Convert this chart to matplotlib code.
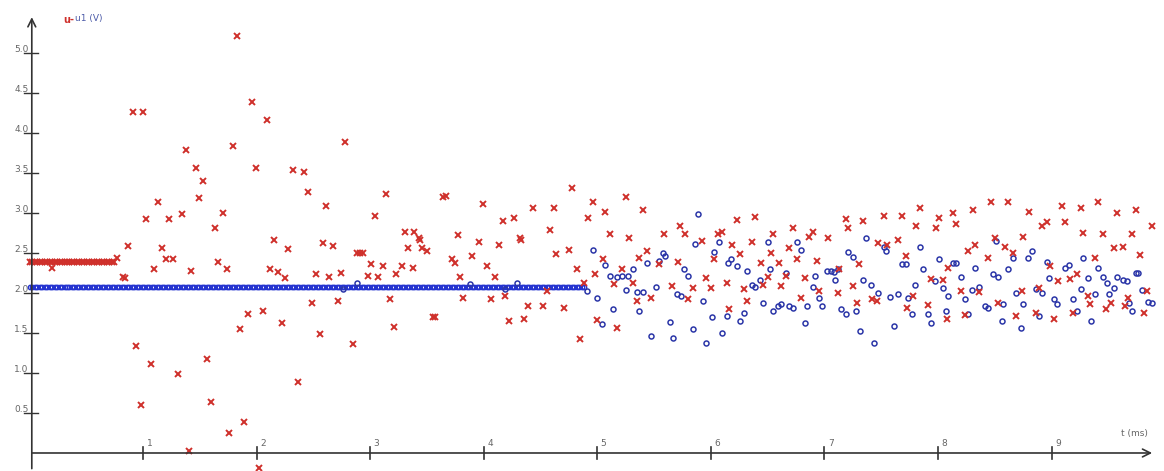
import matplotlib.pyplot as plt
import numpy as np

# sampling step of the flat start (ms)
dt_flat = 0.022

# u : red crosses. flat start, then scattered samples
u_flat_t = np.arange(0, 0.75, dt_flat)
u_flat = [2.39] * len(u_flat_t)

u_t = [0.20, 0.77, 0.82, 0.84, 0.87, 0.91, 1.00, 0.94, 0.98, 1.03, 1.07, 1.10, 1.13, 1.17,
       1.20, 1.26, 1.23, 1.31, 1.34, 1.38, 1.40, 1.42, 1.47, 1.49, 1.53, 1.56, 1.60, 1.63,
       1.66, 1.70, 1.74, 1.76, 1.79, 1.83, 1.85, 1.89, 1.92, 1.96, 1.99, 2.02, 2.06, 2.09,
       2.12, 2.15, 2.19, 2.22, 2.25, 2.28, 2.32, 2.36, 2.42, 2.45, 2.49, 2.52, 2.56, 2.58,
       2.61, 2.64, 2.67, 2.72, 2.74, 2.78, 2.85, 2.88, 2.91, 2.94, 2.98, 3.01, 3.04, 3.07,
       3.11, 3.14, 3.17, 3.21, 3.23, 3.28, 3.31, 3.33, 3.38, 3.39, 3.43, 3.44, 3.46, 3.50,
       3.55, 3.57, 3.64, 3.67, 3.72, 3.75, 3.77, 3.79, 3.82, 3.90, 3.96, 3.99, 4.03, 4.06,
       4.10, 4.13, 4.17, 4.19, 4.22, 4.27, 4.32, 4.33, 4.35, 4.39, 4.43, 4.52, 4.56, 4.58,
       4.62, 4.64, 4.71, 4.75, 4.78, 4.82, 4.85, 4.88, 4.92, 4.96, 4.98, 5.00, 5.05, 5.07,
       5.11, 5.15, 5.17, 5.22, 5.25, 5.28, 5.31, 5.35, 5.37, 5.40, 5.44, 5.47, 5.54, 5.59,
       5.66, 5.71, 5.73, 5.77, 5.80, 5.84, 5.92, 5.96, 6.00, 6.03, 6.06, 6.10, 6.14, 6.16,
       6.19, 6.23, 6.26, 6.29, 6.32, 6.36, 6.39, 6.44, 6.46, 6.50, 6.53, 6.55, 6.60, 6.62,
       6.66, 6.69, 6.72, 6.76, 6.79, 6.83, 6.86, 6.90, 6.93, 6.95, 7.03, 7.12, 7.13, 7.19,
       7.21, 7.25, 7.29, 7.30, 7.34, 7.42, 7.46, 7.47, 7.55, 7.52, 7.65, 7.68, 7.72, 7.73,
       7.78, 7.81, 7.84, 7.91, 7.94, 7.98, 8.01, 8.04, 8.08, 8.09, 8.13, 8.16, 8.20, 8.24,
       8.26, 8.31, 8.33, 8.36, 8.44, 8.47, 8.50, 8.53, 8.59, 8.62, 8.66, 8.69, 8.74, 8.75,
       8.80, 8.86, 8.89, 8.92, 8.96, 8.99, 9.02, 9.06, 9.09, 9.12, 9.16, 9.19, 9.22, 9.26,
       9.28, 9.32, 9.34, 9.38, 9.41, 9.45, 9.48, 9.52, 9.55, 9.58, 9.63, 9.65, 9.67, 9.71,
       9.74, 9.78, 9.81, 9.84, 9.88]
u_val = [2.31, 2.44, 2.20, 2.19, 2.59, 4.26, 4.26, 1.34, 0.60, 2.92, 1.11, 2.30, 3.14, 2.56,
         2.42, 2.42, 2.92, 0.99, 2.99, 3.78, 0.03, 2.28, 3.56, 3.19, 3.40, 1.17, 0.64, 2.81,
         2.39, 3.00, 2.30, 0.25, 3.84, 5.21, 1.55, 0.39, 1.74, 4.39, 3.56, -0.19, 1.78, 4.16,
         2.30, 2.66, 2.26, 1.62, 2.19, 2.55, 3.54, 0.89, 3.51, 3.26, 1.88, 2.24, 1.49, 2.63,
         3.08, 2.20, 2.59, 1.90, 2.25, 3.89, 1.36, 2.50, 2.50, 2.50, 2.21, 2.36, 2.96, 2.20,
         2.34, 3.23, 1.92, 1.58, 2.24, 2.34, 2.76, 2.56, 2.31, 2.76, 2.69, 2.66, 2.56, 2.53,
         1.70, 1.70, 3.20, 3.21, 2.43, 2.38, 2.72, 2.20, 1.94, 2.46, 2.64, 3.11, 2.34, 1.92,
         2.20, 2.60, 2.90, 1.96, 1.65, 2.94, 2.69, 2.66, 1.68, 1.84, 3.06, 1.84, 2.02, 2.79,
         3.06, 2.49, 1.81, 2.54, 3.31, 2.30, 1.43, 2.12, 2.94, 3.13, 2.24, 1.66, 2.43, 3.01,
         2.73, 2.11, 1.56, 2.30, 3.20, 2.69, 2.13, 1.90, 2.44, 3.04, 2.53, 1.94, 2.36, 2.74,
         2.09, 2.39, 2.84, 2.73, 1.92, 2.06, 2.65, 2.19, 2.06, 2.43, 2.73, 2.76, 2.13, 1.80,
         2.60, 2.91, 2.49, 2.05, 1.90, 2.64, 2.95, 2.38, 2.10, 2.20, 2.50, 2.73, 2.38, 2.09,
         2.21, 2.56, 2.81, 2.43, 1.94, 2.19, 2.70, 2.76, 2.40, 2.02, 2.69, 2.00, 2.30, 2.92,
         2.81, 2.09, 1.88, 2.36, 2.90, 1.92, 1.90, 2.62, 2.60, 2.96, 2.66, 2.96, 2.46, 1.81,
         1.96, 2.84, 3.06, 1.85, 2.18, 2.81, 2.94, 2.16, 1.68, 2.31, 3.00, 2.86, 2.02, 1.73,
         2.53, 3.04, 2.60, 2.01, 2.44, 3.13, 2.69, 1.88, 2.58, 3.14, 2.50, 1.71, 2.02, 2.70,
         3.01, 1.75, 2.06, 2.84, 2.88, 2.34, 1.68, 2.15, 3.08, 2.88, 2.18, 1.75, 2.24, 3.06,
         2.75, 1.96, 1.86, 2.44, 3.13, 2.73, 1.80, 1.88, 2.56, 3.00, 2.58, 1.84, 1.94, 2.73,
         3.04, 2.48, 1.75, 2.02, 2.84]

# u1 : blue circles. flat part up to ~4.9 ms, then scattered
u1_flat_t = np.arange(0, 4.9, dt_flat)
u1_flat = [2.07] * len(u1_flat_t)
u1_t = [2.76, 2.88, 3.88, 4.19, 4.29, 4.91, 4.96, 5.00, 5.04, 5.07, 5.11, 5.14, 5.17, 5.22,
        5.25, 5.27, 5.31, 5.35, 5.37, 5.40, 5.44, 5.47, 5.52, 5.54, 5.58, 5.60, 5.64, 5.67,
        5.70, 5.74, 5.76, 5.80, 5.84, 5.86, 5.89, 5.93, 5.96, 6.01, 6.03, 6.07, 6.10, 6.14,
        6.15, 6.18, 6.23, 6.26, 6.29, 6.32, 6.36, 6.39, 6.43, 6.46, 6.50, 6.52, 6.55, 6.59,
        6.62, 6.66, 6.69, 6.72, 6.76, 6.79, 6.83, 6.85, 6.90, 6.92, 6.95, 6.98, 7.02, 7.06,
        7.08, 7.09, 7.12, 7.15, 7.19, 7.21, 7.25, 7.28, 7.31, 7.34, 7.37, 7.41, 7.44, 7.47,
        7.52, 7.54, 7.58, 7.61, 7.65, 7.68, 7.72, 7.74, 7.77, 7.80, 7.84, 7.87, 7.91, 7.94,
        7.97, 8.01, 8.04, 8.07, 8.09, 8.13, 8.16, 8.20, 8.24, 8.26, 8.30, 8.33, 8.36, 8.41,
        8.44, 8.48, 8.51, 8.53, 8.56, 8.57, 8.62, 8.66, 8.69, 8.73, 8.75, 8.79, 8.83, 8.86,
        8.89, 8.92, 8.96, 8.98, 9.02, 9.05, 9.12, 9.15, 9.19, 9.22, 9.26, 9.28, 9.32, 9.35,
        9.38, 9.41, 9.45, 9.49, 9.51, 9.55, 9.58, 9.63, 9.66, 9.68, 9.71, 9.74, 9.76, 9.80,
        9.85, 9.88]
u1_val = [2.05, 2.12, 2.11, 2.05, 2.12, 2.03, 2.54, 1.94, 1.61, 2.35, 2.21, 1.80, 2.20, 2.21,
          2.04, 2.21, 2.30, 2.01, 1.78, 2.01, 2.38, 1.46, 2.08, 2.40, 2.50, 2.46, 1.64, 1.44,
          1.99, 1.96, 2.30, 2.21, 1.55, 2.61, 2.98, 1.90, 1.38, 1.70, 2.51, 2.64, 1.50, 1.71,
          2.38, 2.43, 2.34, 1.65, 1.75, 2.28, 2.10, 2.08, 2.16, 1.88, 2.64, 2.30, 1.78, 1.84,
          1.86, 2.25, 1.84, 1.81, 2.64, 2.54, 1.62, 1.84, 2.08, 2.21, 1.94, 1.84, 2.28, 2.28,
          2.26, 2.16, 2.30, 1.80, 1.74, 2.51, 2.45, 1.78, 1.52, 2.16, 2.69, 2.10, 1.38, 2.00,
          2.58, 2.53, 1.95, 1.59, 1.99, 2.36, 2.36, 1.94, 1.74, 2.10, 2.58, 2.30, 1.74, 1.62,
          2.15, 2.43, 2.06, 1.78, 1.96, 2.38, 2.38, 2.20, 1.92, 1.74, 2.04, 2.31, 2.08, 1.84,
          1.81, 2.24, 2.65, 2.20, 1.65, 1.86, 2.30, 2.44, 2.00, 1.56, 1.86, 2.44, 2.53, 2.05,
          1.71, 2.00, 2.39, 2.19, 1.92, 1.86, 2.31, 2.35, 1.92, 1.78, 2.05, 2.44, 2.19, 1.65,
          1.99, 2.31, 2.20, 2.12, 1.99, 2.06, 2.20, 2.16, 2.15, 1.88, 1.78, 2.25, 2.25, 2.04,
          1.89, 1.88]

x_ticks = [1, 2, 3, 4, 5, 6, 7, 8, 9]
y_ticks = [0.5, 1.0, 1.5, 2.0, 2.5, 3.0, 3.5, 4.0, 4.5, 5.0]

red = '#cf302b'
blue = '#2b36a8'
axis_col = '#333333'
label_col = '#666666'

fig = plt.figure(figsize=(11.64, 4.71), dpi=100)
ax = fig.add_axes([0, 0, 1, 1])
ax.set_xlim(-0.26, 9.99)
ax.set_ylim(-0.225, 5.66)
ax.axis('off')

# axes with open arrows
ax.annotate('', xy=(9.91, 0), xytext=(0.0, 0),
            arrowprops=dict(arrowstyle='->', color=axis_col, lw=1.2, mutation_scale=14))
ax.annotate('', xy=(0.02, 5.48), xytext=(0.02, -0.23),
            arrowprops=dict(arrowstyle='->', color=axis_col, lw=1.2, mutation_scale=14))

for t in x_ticks:
    ax.plot([t, t], [-0.07, 0.07], color=axis_col, lw=1.2)
    ax.text(t + 0.03, 0.06, str(t), fontsize=6.5, color=label_col, ha='left', va='bottom')
for v in y_ticks:
    ax.plot([-0.045, 0.075], [v, v], color=axis_col, lw=1.0)
    ax.text(-0.01, v - 0.01, f'{v:.1f}', fontsize=6.5, color=label_col, ha='right', va='bottom')

ax.text(9.73, 0.24, 't (ms)', fontsize=6.5, color=label_col, ha='center', va='center')

# legend-ish header
ax.text(0.30, 5.41, 'u-', fontsize=7, color=red, ha='left', va='center', fontweight='bold')
ax.text(0.40, 5.43, 'u1 (V)', fontsize=6.5, color='#4b5aa8', ha='left', va='center')

# data
ax.plot(u1_flat_t, u1_flat, 'o', ms=3.2, mfc='none', mec='#2433d0', mew=1.0, ls='none')
ax.plot(u1_t, u1_val, 'o', ms=3.6, mfc='none', mec=blue, mew=1.1, ls='none')
ax.plot(u_flat_t, u_flat, 'x', ms=4.5, color=red, mew=1.4, ls='none')
ax.plot(u_t, u_val, 'x', ms=4.8, color=red, mew=1.4, ls='none')

fig.savefig('out.png', dpi=100)
